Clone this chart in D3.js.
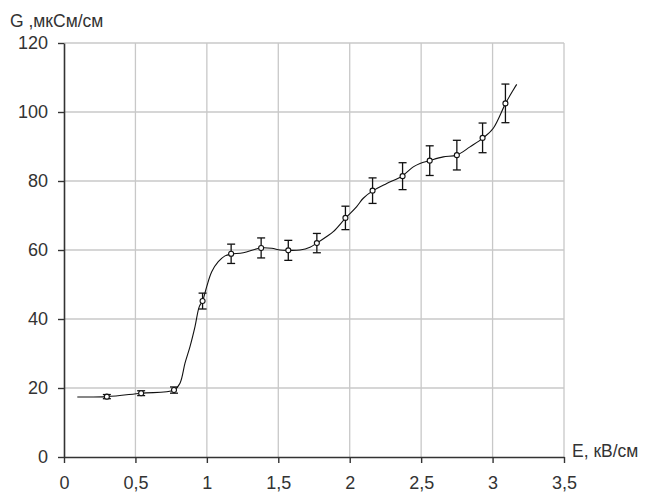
<!DOCTYPE html>
<html>
<head>
<meta charset="utf-8">
<script src="https://cdn.jsdelivr.net/npm/d3@7"></script>
<style>
  body { margin: 0; background: #fff; }
  svg { display: block; font-family: "Liberation Sans", Arial, sans-serif; }
  .grid line { stroke: #c8c8c8; stroke-width: 1.3; }
  .axis path, .axis line { stroke: #333; }
  .axis text { font-size: 18px; fill: #333; }
</style>
</head>
<body>
<div id="chart"></div>
<script>
// measured points: field strength, conductivity, half error
const eValues = [0.30, 0.54, 0.77, 0.97, 1.17, 1.38, 1.57, 1.77, 1.97, 2.16, 2.37, 2.56, 2.75, 2.93, 3.09]
const gValues = [17.5, 18.5, 19.4, 45.2, 58.9, 60.6, 59.9, 62.0, 69.3, 77.2, 81.4, 85.9, 87.5, 92.5, 102.5]
const gErrors = [0.6, 0.7, 0.9, 2.3, 2.8, 2.9, 2.9, 2.8, 3.4, 3.7, 3.9, 4.3, 4.3, 4.3, 5.6]

// smoothed curve as traced on the picture
const curveE = [0.093, 0.30, 0.54, 0.77, 0.812, 0.847, 0.882, 0.917, 0.947, 0.97, 0.999, 1.034, 1.08, 1.127, 1.17,
	1.255, 1.376, 1.454, 1.512, 1.566, 1.652, 1.722, 1.77, 1.839, 1.885, 1.972, 2.049, 2.095, 2.163, 2.259, 2.366,
	2.445, 2.492, 2.557, 2.655, 2.749, 2.842, 2.935, 3.005, 3.091, 3.145, 3.169]
const curveG = [17.4, 17.5, 18.5, 19.4, 21.4, 27.2, 32.0, 37.8, 43.6, 45.2, 49.4, 53.7, 56.6, 58.3, 58.8,
	59.2, 60.6, 60.5, 60.0, 59.9, 60.0, 60.8, 62.0, 63.9, 65.3, 69.3, 72.6, 75.0, 77.2, 79.3, 81.4,
	84.1, 85.1, 85.9, 87.0, 87.5, 89.9, 92.5, 95.3, 102.5, 106.4, 108.0]

const xTicks = [0, 0.5, 1, 1.5, 2, 2.5, 3, 3.5]
const yTicks = [0, 20, 40, 60, 80, 100, 120]

const width = 646
const height = 492

const scaleX = d3.scaleLinear().domain([0, 3.5]).range([64, 564])
const scaleY = d3.scaleLinear().domain([0, 120]).range([457, 43])

const fmt = d => String(d).replace('.', ',')

const svg = d3.select('#chart').append('svg')
	.attr('width', width)
	.attr('height', height)

// grid
const grid = svg.append('g').attr('class', 'grid')
grid.selectAll('.gx')
	.data(xTicks.slice(1))
	.enter().append('line')
		.attr('x1', d => scaleX(d))
		.attr('x2', d => scaleX(d))
		.attr('y1', scaleY(0))
		.attr('y2', scaleY(120))
grid.selectAll('.gy')
	.data(yTicks.slice(1))
	.enter().append('line')
		.attr('x1', scaleX(0))
		.attr('x2', scaleX(3.5))
		.attr('y1', d => scaleY(d))
		.attr('y2', d => scaleY(d))

// axes
svg.append('g')
	.attr('class', 'axis')
	.attr('transform', `translate(0, ${scaleY(0)})`)
	.call(d3.axisBottom(scaleX).tickValues(xTicks).tickFormat(fmt).tickSize(6).tickSizeOuter(0).tickPadding(13))
	.call(g => g.select('.domain').attr('stroke-width', 1.6))
	.call(g => g.selectAll('.tick line').attr('stroke-width', 1.4))

svg.append('g')
	.attr('class', 'axis')
	.attr('transform', `translate(${scaleX(0)}, 0)`)
	.call(d3.axisLeft(scaleY).tickValues(yTicks).tickFormat(d => d).tickSize(6).tickSizeOuter(0).tickPadding(10))
	.call(g => g.select('.domain').attr('stroke-width', 1.6))
	.call(g => g.selectAll('.tick line').attr('stroke-width', 1.4))

// axis titles
svg.append('text')
	.attr('x', 10)
	.attr('y', 27)
	.attr('font-size', 17.5)
	.attr('fill', '#333')
	.text('G ,мкСм/см')

svg.append('text')
	.attr('x', 572)
	.attr('y', 457)
	.attr('font-size', 17.5)
	.attr('fill', '#333')
	.text('E, кВ/см')

// smoothed curve
const curveData = curveE.map((e, i) => ({ e: e, g: curveG[i] }))
const line = d3.line()
	.x(d => scaleX(d.e))
	.y(d => scaleY(d.g))
	.curve(d3.curveCatmullRom.alpha(0.5))

svg.append('path')
	.datum(curveData)
	.attr('fill', 'none')
	.attr('stroke', '#111')
	.attr('stroke-width', 1.1)
	.attr('d', line)

// error bars and markers
const pts = eValues.map((e, i) => ({ e: e, g: gValues[i], err: gErrors[i] }))
const bars = svg.append('g')
	.attr('stroke', '#111')
	.attr('stroke-width', 1.3)
	.selectAll('g')
	.data(pts)
	.enter().append('g')

bars.append('line')
	.attr('x1', d => scaleX(d.e))
	.attr('x2', d => scaleX(d.e))
	.attr('y1', d => scaleY(d.g - d.err))
	.attr('y2', d => scaleY(d.g + d.err))
bars.append('line')
	.attr('x1', d => scaleX(d.e) - 4)
	.attr('x2', d => scaleX(d.e) + 4)
	.attr('y1', d => scaleY(d.g - d.err))
	.attr('y2', d => scaleY(d.g - d.err))
bars.append('line')
	.attr('x1', d => scaleX(d.e) - 4)
	.attr('x2', d => scaleX(d.e) + 4)
	.attr('y1', d => scaleY(d.g + d.err))
	.attr('y2', d => scaleY(d.g + d.err))
bars.append('circle')
	.attr('cx', d => scaleX(d.e))
	.attr('cy', d => scaleY(d.g))
	.attr('r', 2.5)
	.attr('fill', '#fff')
	.attr('stroke-width', 1.1)
</script>
</body>
</html>
